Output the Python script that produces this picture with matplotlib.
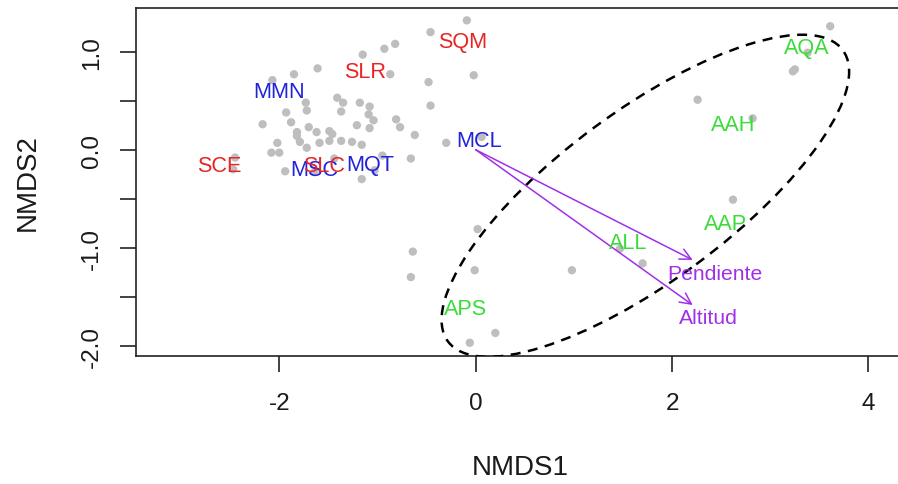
import matplotlib
matplotlib.use('Agg')
import matplotlib.pyplot as plt
from matplotlib.patches import Ellipse, FancyArrowPatch

plt.rcParams['font.family'] = ['Liberation Sans', 'DejaVu Sans']
plt.rcParams['axes.unicode_minus'] = False

# ---- site scores (grey points) ----
site_x = [-0.09, -0.46, -0.82, -0.93, -1.15, -1.61, -1.85, -0.87, -0.02, -2.07,
          -0.48, -1.73, -1.41, -1.35, -1.18, -1.08, -0.46, -1.72, -1.93, -1.37,
          -1.09, -1.88, -2.17, -0.81, -1.04, -1.21, -0.77, -1.08, -1.70, -1.82,
          -1.49, -1.62, -1.46, -1.82, -0.62, -2.02, -1.79, -1.59, -1.49, -1.37,
          -1.26, -1.16, -1.72, -0.30, -2.08, -2.00, -2.45, -2.47, -0.95, -0.66,
          -1.44, -1.94, -1.64, -1.16, -1.03, 0.06,
          3.61, 3.38, 3.23, 3.25, 2.26, 2.82, 2.62, 0.02, -0.64, -0.66,
          -0.01, 0.98, 1.70, 1.47, 0.20, -0.06]
site_y = [1.32, 1.20, 1.08, 1.03, 0.97, 0.83, 0.77, 0.77, 0.76, 0.71,
          0.69, 0.48, 0.53, 0.48, 0.48, 0.44, 0.45, 0.40, 0.38, 0.39,
          0.36, 0.28, 0.26, 0.31, 0.30, 0.25, 0.23, 0.22, 0.23, 0.18,
          0.19, 0.18, 0.16, 0.14, 0.15, 0.07, 0.08, 0.07, 0.09, 0.09,
          0.08, 0.05, 0.02, 0.07, -0.03, -0.03, -0.08, -0.20, -0.06, -0.09,
          -0.09, -0.22, -0.23, -0.30, -0.21, 0.13,
          1.26, 0.99, 0.80, 0.82, 0.51, 0.32, -0.51, -0.81, -1.04, -1.30,
          -1.23, -1.23, -1.16, -1.01, -1.87, -1.97]

# ---- group labels ----
label_names = ['SQM', 'SLR', 'SCE', 'MMN', 'MSC', 'SLC', 'MQT', 'MCL',
               'AQA', 'AAH', 'AAP', 'ALL', 'APS']
label_x = [-0.13, -1.13, -2.61, -2.00, -1.64, -1.54, -1.07, 0.03,
           3.37, 2.62, 2.54, 1.55, -0.10]
label_y = [1.10, 0.80, -0.16, 0.59, -0.20, -0.16, -0.15, 0.09,
           1.04, 0.26, -0.75, -0.95, -1.62]
label_group = ['S', 'S', 'S', 'M', 'M', 'S', 'M', 'M',
               'A', 'A', 'A', 'A', 'A']

# ---- environmental vectors ----
vector_names = ['Pendiente', 'Altitud']
vector_x = [2.21, 2.21]
vector_y = [-1.125, -1.585]
vector_label_x = [2.44, 2.37]
vector_label_y = [-1.26, -1.71]

# ---- ellipse (centre, semi-axes, angle) ----
ell_cx, ell_cy = 1.728, -0.47
ell_a, ell_b = 2.50, 0.87
ell_angle = 36.5

x_ticks = [-2, 0, 2, 4]
x_ticklabels = ['-2', '0', '2', '4']
y_ticks = [-2.0, -1.5, -1.0, -0.5, 0.0, 0.5, 1.0]
y_ticklabels = ['-2.0', '', '-1.0', '', '0.0', '', '1.0']

group_colors = {'S': '#E82424', 'M': '#2222DD', 'A': '#3ADC3A'}
vec_color = '#A030E8'

fig = plt.figure(figsize=(8.98, 4.85), dpi=100)
ax = fig.add_axes([136 / 898, 1 - 356.5 / 485, (905 - 136) / 898, (356.5 - 9.3) / 485])
ax.set_xlim(-3.459, 4.372)
ax.set_ylim(-2.100, 1.443)

ax.scatter(site_x, site_y, s=36, color='#BEBEBE', edgecolors='none', zorder=2)

ell = Ellipse((ell_cx, ell_cy), 2 * ell_a, 2 * ell_b, angle=ell_angle,
              fill=False, edgecolor='black', lw=1.8, linestyle=(0, (4, 3)), zorder=3)
ax.add_patch(ell)

for vx, vy in zip(vector_x, vector_y):
    arr = FancyArrowPatch((0, 0), (vx, vy), arrowstyle='->,head_length=0.4,head_width=0.2',
                          mutation_scale=20, color=vec_color, lw=1.1,
                          shrinkA=0, shrinkB=0, zorder=4)
    ax.add_patch(arr)

for name, lx, ly in zip(vector_names, vector_label_x, vector_label_y):
    ax.text(lx, ly, name, color=vec_color, fontsize=15.2, ha='center', va='center', zorder=5)

for name, lx, ly, g in zip(label_names, label_x, label_y, label_group):
    ax.text(lx, ly, name, color=group_colors[g], fontsize=15.6, ha='center', va='center', zorder=5)

ax.set_xticks(x_ticks)
ax.set_xticklabels(x_ticklabels)
ax.set_yticks(y_ticks)
ax.set_yticklabels(y_ticklabels)
plt.setp(ax.get_yticklabels(), rotation=90, va='center')

for sp in ax.spines.values():
    sp.set_linewidth(1.2)
    sp.set_color('#222222')
ax.tick_params(axis='both', length=11.5, width=1.2, color='#222222', labelsize=17.5,
               labelcolor='#1a1a1a')
ax.tick_params(axis='x', pad=14.5)
ax.tick_params(axis='y', pad=12)

ax.set_xlabel('NMDS1', fontsize=20, color='#1a1a1a')
ax.set_ylabel('NMDS2', fontsize=20, color='#1a1a1a')
ax.xaxis.set_label_coords(0.5, -0.283)
ax.yaxis.set_label_coords(-0.1235, 0.5)

fig.savefig('out.png', dpi=100)
